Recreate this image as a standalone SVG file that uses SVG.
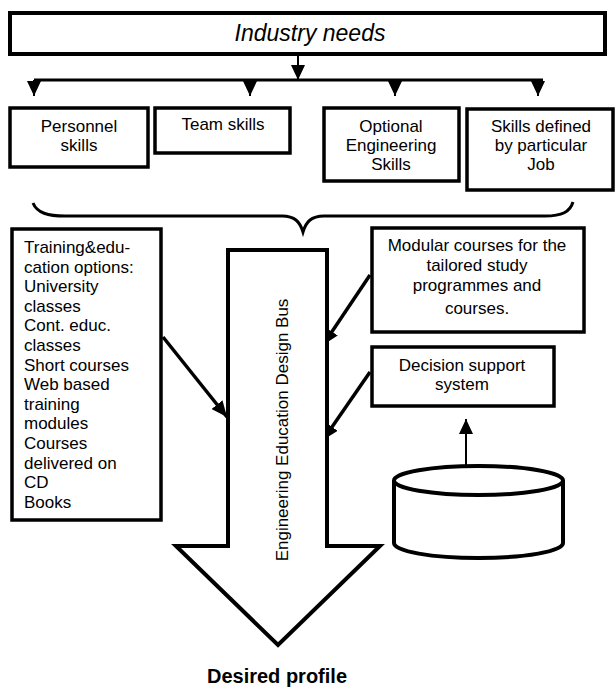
<svg xmlns="http://www.w3.org/2000/svg" width="615" height="688" viewBox="0 0 615 688">
<style>
.box{fill:#fff;stroke:#000;stroke-width:3.5}
.t{font-family:"Liberation Sans",Arial,sans-serif;font-size:17px;fill:#000}
.c{text-anchor:middle}
.ln{fill:none;stroke:#000}
</style>
<defs>
<marker id="ah" markerUnits="userSpaceOnUse" markerWidth="18" markerHeight="16" refX="16" refY="7" orient="auto">
<path d="M0,0 L16,7 L0,14 z" fill="#000"/>
</marker>
<marker id="ahs" markerUnits="userSpaceOnUse" markerWidth="16" markerHeight="16" refX="15" refY="7" orient="auto">
<path d="M0,0 L15,7 L0,14 z" fill="#000"/>
</marker>
</defs>
<rect width="615" height="688" fill="#fff"/>

<g id="industry">
<rect class="box" x="10" y="13" width="595" height="41" style="stroke-width:4"/>
<text class="t c" x="310" y="41" style="font-size:23px;font-style:italic">Industry needs</text>
</g>

<g id="connectors">
<line class="ln" x1="298" y1="55" x2="298" y2="80" stroke-width="2" marker-end="url(#ahs)"/>
<line class="ln" x1="34" y1="80" x2="543" y2="80" stroke-width="3"/>
<line class="ln" x1="34" y1="80" x2="34" y2="96" stroke-width="2" marker-end="url(#ahs)"/>
<line class="ln" x1="250" y1="80" x2="250" y2="96" stroke-width="2" marker-end="url(#ahs)"/>
<line class="ln" x1="395" y1="80" x2="395" y2="96" stroke-width="2" marker-end="url(#ahs)"/>
<line class="ln" x1="538" y1="80" x2="538" y2="96" stroke-width="2" marker-end="url(#ahs)"/>
<path class="ln" stroke-width="3" d="M33,203 C37,213 48,216 65,216 L282,216 C295,216 300,222 303,232 C306,222 311,216 324,216 L545,216 C562,216 570,212 573,202"/>
<line class="ln" x1="163" y1="337" x2="227" y2="417" stroke-width="3.5" marker-end="url(#ah)"/>
<line class="ln" x1="370" y1="275" x2="323" y2="345" stroke-width="3.5" marker-end="url(#ah)"/>
<line class="ln" x1="370" y1="372" x2="323" y2="440" stroke-width="3.5" marker-end="url(#ah)"/>
<line class="ln" x1="466" y1="465" x2="466" y2="419" stroke-width="2" marker-end="url(#ahs)"/>
</g>

<g id="personnel">
<rect class="box" x="10" y="108" width="138" height="59"/>
<text class="t c" x="79" y="132">Personnel</text>
<text class="t c" x="79" y="151">skills</text>
</g>

<g id="team">
<rect class="box" x="155" y="108" width="135" height="45"/>
<text class="t c" x="223" y="130">Team skills</text>
</g>

<g id="optional">
<rect class="box" x="324" y="108" width="135" height="73"/>
<text class="t c" x="391" y="132">Optional</text>
<text class="t c" x="391" y="151">Engineering</text>
<text class="t c" x="391" y="170">Skills</text>
</g>

<g id="job">
<rect class="box" x="467" y="109" width="146" height="81"/>
<text class="t c" x="541" y="132">Skills defined</text>
<text class="t c" x="541" y="151">by particular</text>
<text class="t c" x="541" y="170">Job</text>
</g>

<g id="training">
<rect class="box" x="12" y="229" width="149" height="291"/>
<text class="t" x="24" y="253">Training&amp;edu-</text>
<text class="t" x="24" y="272.6">cation options:</text>
<text class="t" x="24" y="292.2">University</text>
<text class="t" x="24" y="311.8">classes</text>
<text class="t" x="24" y="331.4">Cont. educ.</text>
<text class="t" x="24" y="351">classes</text>
<text class="t" x="24" y="370.6">Short courses</text>
<text class="t" x="24" y="390.2">Web based</text>
<text class="t" x="24" y="409.8">training</text>
<text class="t" x="24" y="429.4">modules</text>
<text class="t" x="24" y="449">Courses</text>
<text class="t" x="24" y="468.6">delivered on</text>
<text class="t" x="24" y="488.2">CD</text>
<text class="t" x="24" y="507.8">Books</text>
</g>

<g id="bus">
<polygon points="228,250 327,250 327,546 380,546 278,645 176,546 228,546" fill="#fff" stroke="#000" stroke-width="4" stroke-linejoin="miter"/>
<text class="t c" transform="translate(288,430) rotate(-90)">Engineering Education Design Bus</text>
</g>

<g id="modular">
<rect class="box" x="372" y="228" width="212" height="104"/>
<text class="t c" x="477" y="251">Modular courses for the</text>
<text class="t c" x="477" y="271">tailored study</text>
<text class="t c" x="477" y="291">programmes and</text>
<text class="t c" x="477" y="314">courses.</text>
</g>

<g id="decision">
<rect class="box" x="372" y="347" width="182" height="59"/>
<text class="t c" x="462" y="371">Decision support</text>
<text class="t c" x="462" y="390">system</text>
</g>

<g id="database">
<path d="M394,480 L394,543 A84.5,15 0 0 0 563,543 L563,480" fill="#fff" stroke="#000" stroke-width="4"/>
<ellipse cx="478.5" cy="480.5" rx="84.5" ry="14.5" fill="#fff" stroke="#000" stroke-width="4"/>
</g>

<g id="profile">
<text class="t c" x="277" y="683" style="font-size:20px;font-weight:bold">Desired profile</text>
</g>
</svg>
